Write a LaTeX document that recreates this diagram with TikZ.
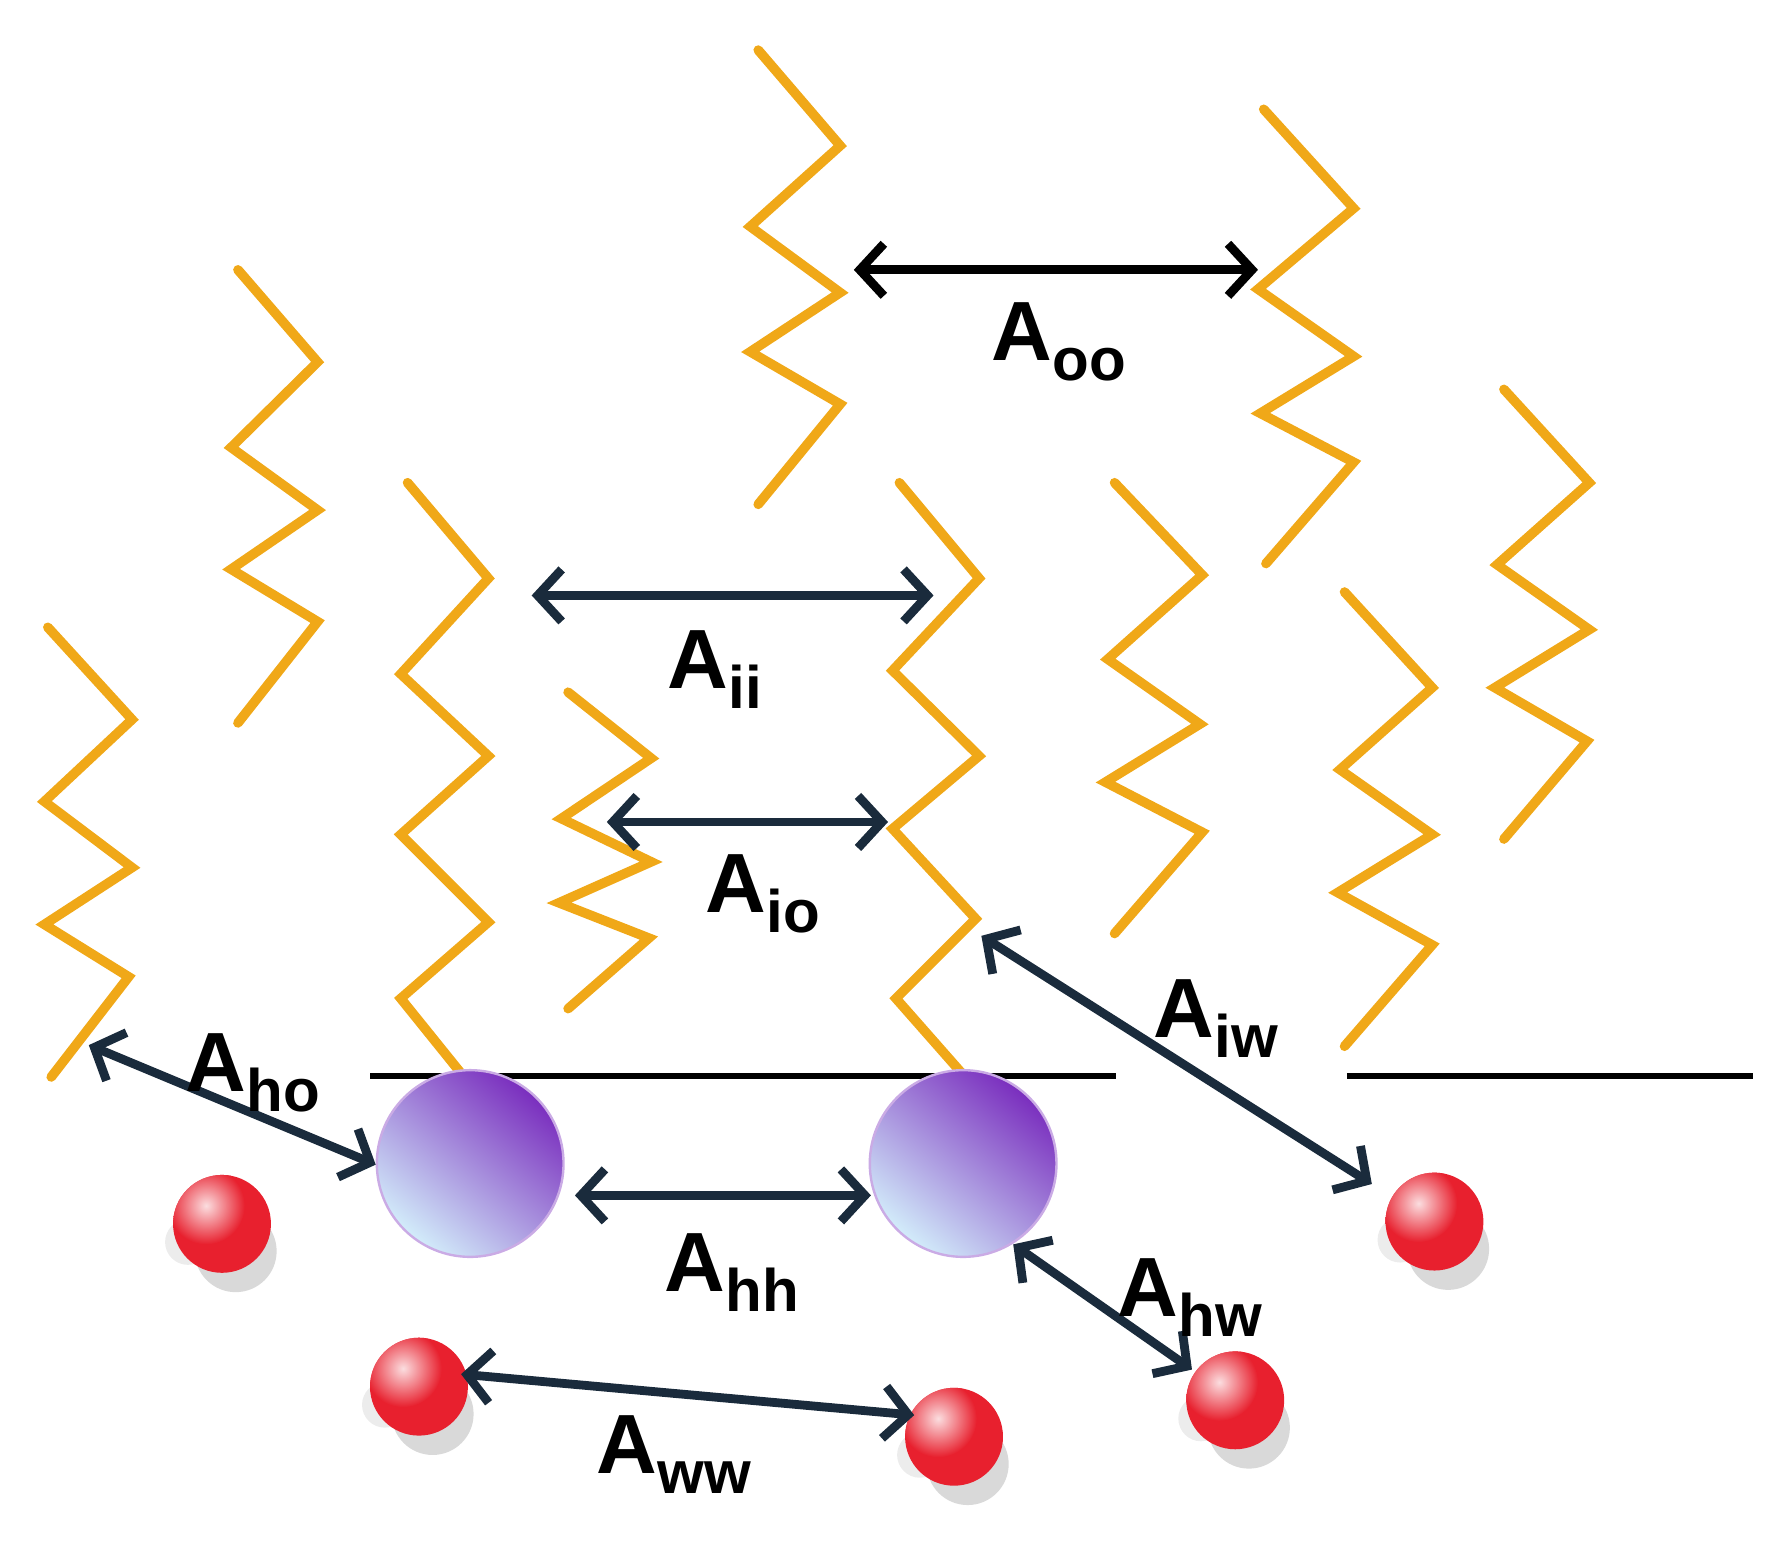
\documentclass[tikz,border=0pt]{standalone}
\usepackage{fontspec}
\setmainfont{Liberation Sans}
\usetikzlibrary{arrows.meta}
\definecolor{chain}{HTML}{F0A818}
\definecolor{arr}{HTML}{1A2B3C}
\definecolor{hpurple}{HTML}{7A2EBE}
\definecolor{hblue}{HTML}{D2ECFA}
\definecolor{wred}{HTML}{E8202E}
\begin{document}
\begin{tikzpicture}[x=0.01cm,y=-0.01cm,
  chainst/.style={draw=chain,line width=2.4pt,line join=miter,line cap=round},
  dbl/.style={draw=arr,line width=2.2pt,{Straight Barb[length=6pt,width=13pt,line width=2.2pt]}-{Straight Barb[length=6pt,width=13pt,line width=2.2pt]}},
  lab/.style={font=\fontsize{21}{24}\bfseries\selectfont,inner sep=0pt}]
\useasboundingbox (0,0) rectangle (1560,1357);
% chains
\draw[chainst] (42,551)--(116,632)--(39,704)--(116,762)--(39,812)--(113,858)--(45,946);
\draw[chainst] (209,237)--(279,318)--(203,393)--(279,448)--(203,500)--(279,546)--(209,635);
\draw[chainst] (358,424)--(429,508)--(352,592)--(429,664)--(352,733)--(429,810)--(352,877)--(406,944);
\draw[chainst] (499,608)--(572,666)--(493,719)--(572,757)--(491,793)--(570,824)--(499,886);
\draw[chainst] (666,44)--(738,128)--(659,199)--(738,257)--(659,309)--(738,355)--(666,443);
\draw[chainst] (790,424)--(860,508)--(784,589)--(860,664)--(784,728)--(857,807)--(787,877)--(846,944);
\draw[chainst] (979,424)--(1056,505)--(973,579)--(1054,636)--(971,687)--(1056,731)--(979,820);
\draw[chainst] (1110,96)--(1189,183)--(1105,254)--(1189,313)--(1107,363)--(1189,406)--(1112,495);
\draw[chainst] (1181,520)--(1258,604)--(1177,676)--(1258,733)--(1175,784)--(1258,830)--(1181,919);
\draw[chainst] (1321,342)--(1396,424)--(1315,496)--(1396,553)--(1313,604)--(1394,651)--(1321,737);
% interface line
\draw[line width=1.6pt] (325,945)--(980,945);
\draw[line width=1.6pt] (1183,945)--(1540,945);
% heads
\foreach \n/\x in {h1/413,h2/846}{
  \shade[top color=hpurple,bottom color=hblue,shading angle=-40,draw=hpurple!40,line width=0.6pt] (\x,1022) circle[radius=82];
  \coordinate (\n) at (\x,1022);}
% water
\foreach \n/\x/\y in {w1/195/1075,w2/368/1218,w3/838/1262,w4/1085/1230,w5/1260/1073}{
  \fill[gray!30] (\x+12,\y+24) circle[radius=36];
  \fill[gray!15] (\x-30,\y+16) circle[radius=20];
  \fill[wred] (\x,\y) circle[radius=43];
  \begin{scope}
    \clip (\x,\y) circle[radius=43];
    \shade[inner color=white,outer color=wred,shading=radial,opacity=0.85] (\x-14,\y-16) circle[radius=34];
  \end{scope}
  \coordinate (\n) at (\x,\y);}
% arrow end coordinates
\coordinate (oo1) at (750,237); \coordinate (oo2) at (1105,237);
\coordinate (ii1) at (467,523); \coordinate (ii2) at (820,523);
\coordinate (io1) at (533,722); \coordinate (io2) at (780,722);
\coordinate (iw1) at (862,822); \coordinate (iw2) at (1205,1040);
\coordinate (ho1) at (78,918);  \coordinate (ho2) at (330,1023);
\coordinate (hh1) at (505,1050); \coordinate (hh2) at (765,1050);
\coordinate (hw1) at (890,1093); \coordinate (hw2) at (1047,1203);
\coordinate (ww1) at (405,1207); \coordinate (ww2) at (803,1243);
\draw[dbl,draw=black] (oo1)--(oo2);
\draw[dbl] (ii1)--(ii2);
\draw[dbl] (io1)--(io2);
\draw[dbl] (iw1)--(iw2);
\draw[dbl] (ho1)--(ho2);
\draw[dbl] (hh1)--(hh2);
\draw[dbl] (hw1)--(hw2);
\draw[dbl] (ww1)--(ww2);
% labels
\node[lab] (Loo) at (930,300) {A\raisebox{-0.45ex}{\fontsize{15}{16}\selectfont oo}};
\node[lab] (Lii) at (628,588) {A\raisebox{-0.45ex}{\fontsize{15}{16}\selectfont ii}};
\node[lab] (Lio) at (670,785) {A\raisebox{-0.45ex}{\fontsize{15}{16}\selectfont io}};
\node[lab] (Liw) at (1068,895) {A\raisebox{-0.45ex}{\fontsize{15}{16}\selectfont iw}};
\node[lab] (Lho) at (222,942) {A\raisebox{-0.45ex}{\fontsize{15}{16}\selectfont ho}};
\node[lab] (Lhh) at (643,1118) {A\raisebox{-0.45ex}{\fontsize{15}{16}\selectfont hh}};
\node[lab] (Lhw) at (1045,1140) {A\raisebox{-0.45ex}{\fontsize{15}{16}\selectfont hw}};
\node[lab] (Lww) at (592,1278) {A\raisebox{-0.45ex}{\fontsize{15}{16}\selectfont ww}};
\end{tikzpicture}
\end{document}
